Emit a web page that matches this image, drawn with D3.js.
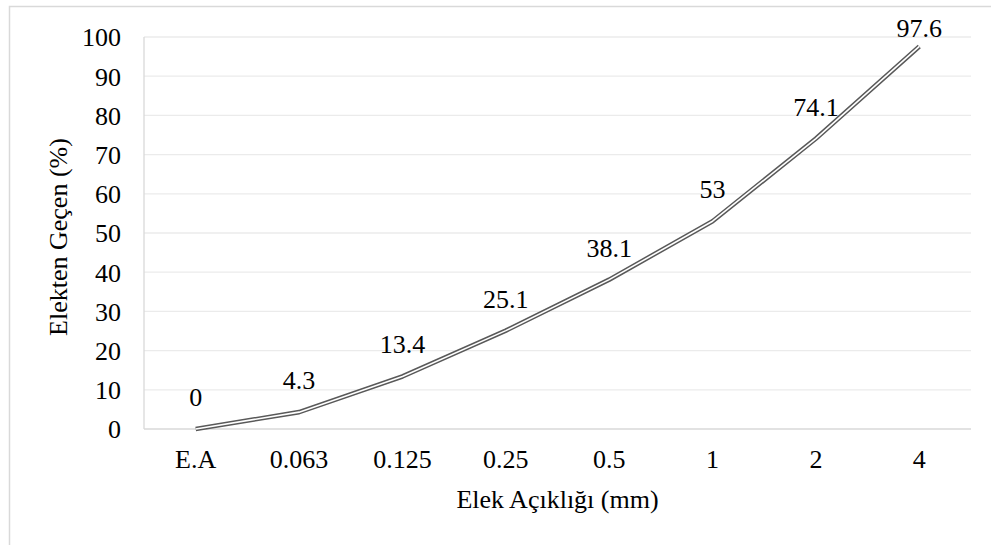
<!DOCTYPE html>
<html><head><meta charset="utf-8">
<script src="https://cdn.jsdelivr.net/npm/d3@7"></script>
<style>
body{margin:0;background:#fff;}
</style></head>
<body>
<svg id="c" width="991" height="545"></svg>
<script>
const categories = ["E.A","0.063","0.125","0.25","0.5","1","2","4"];
const values = [0,4.3,13.4,25.1,38.1,53,74.1,97.6];
const yTicks = [0,10,20,30,40,50,60,70,80,90,100];
const xTitle = "Elek Açıklığı (mm)";
const yTitle = "Elekten Geçen (%)";

const FONT = "\"Liberation Serif\", \"Times New Roman\", serif";
const FS = 26;
const svg = d3.select("#c");
const W = 991, H = 545;
const m = {left:144, right:971, top:37, bottom:429};

// outer border
svg.append("rect").attr("x",9.5).attr("y",6.5).attr("width",W).attr("height",H)
  .attr("fill","none").attr("stroke","#d9d9d9").attr("stroke-width",1.5);

const x = d3.scaleBand().domain(categories).range([m.left,m.right]);
const y = d3.scaleLinear().domain([0,100]).range([m.bottom,m.top]);

// gridlines
svg.append("g").selectAll("line").data(yTicks.filter(d=>d>0)).join("line")
  .attr("x1",m.left).attr("x2",m.right)
  .attr("y1",d=>y(d)).attr("y2",d=>y(d))
  .attr("stroke","#ebebeb").attr("stroke-width",1.3);

// plot left border and bottom axis
svg.append("line").attr("x1",m.left).attr("x2",m.left).attr("y1",m.top).attr("y2",m.bottom)
  .attr("stroke","#d9d9d9").attr("stroke-width",1.3);
svg.append("line").attr("x1",m.left).attr("x2",m.right).attr("y1",m.bottom).attr("y2",m.bottom)
  .attr("stroke","#d9d9d9").attr("stroke-width",1.3);

// y axis labels
const ya = svg.append("g").attr("transform",`translate(${m.left-23},0)`)
  .call(d3.axisLeft(y).tickValues(yTicks).tickSize(0).tickPadding(0).tickFormat(d3.format("d")));
ya.select(".domain").remove();
ya.attr("font-family",null).attr("font-size",null);
ya.selectAll("text").style("font-size",FS+"px").style("font-family",FONT).attr("fill","#000")
  .attr("dy","0.34em");

// x axis labels
const xa = svg.append("g").attr("transform",`translate(0,468)`)
  .call(d3.axisBottom(x).tickSize(0).tickPadding(0));
xa.select(".domain").remove();
xa.attr("font-family",null).attr("font-size",null);
xa.selectAll("text").style("font-size",FS+"px").style("font-family",FONT).attr("fill","#000")
  .attr("dy",0).attr("y",0);

// titles
svg.append("text").attr("x",(m.left+m.right)/2).attr("y",508).attr("text-anchor","middle")
  .style("font-size",FS+"px").style("font-family",FONT).text(xTitle);
svg.append("text").attr("transform",`translate(67,${(m.top+m.bottom)/2+4}) rotate(-90)`)
  .attr("text-anchor","middle").style("font-size",FS+"px").style("font-family",FONT).text(yTitle);

// double line
const data = categories.map((c,i)=>({c, v:values[i]}));
const line = d3.line().x(d=>x(d.c)+x.bandwidth()/2).y(d=>y(d.v));
svg.append("path").datum(data).attr("d",line).attr("fill","none")
  .attr("stroke","#595959").attr("stroke-width",4.6).attr("stroke-linejoin","round");
svg.append("path").datum(data).attr("d",line).attr("fill","none")
  .attr("stroke","#fff").attr("stroke-width",1.6).attr("stroke-linejoin","round");

// data labels
svg.append("g").selectAll("text").data(data).join("text")
  .attr("x",d=>x(d.c)+x.bandwidth()/2)
  .attr("y",d=>Math.max(y(d.v)-23, m.top))
  .attr("text-anchor","middle")
  .style("font-size",FS+"px").style("font-family",FONT)
  .text(d=>d.v);
</script>
</body></html>
